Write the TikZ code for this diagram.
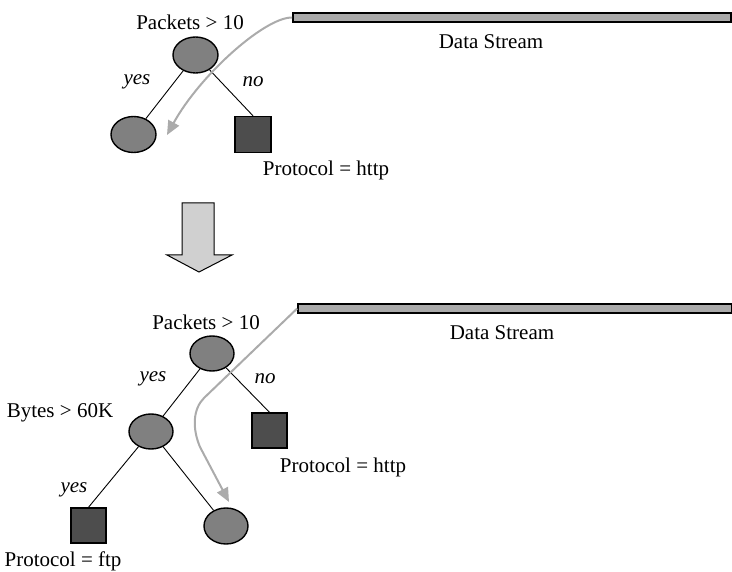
\documentclass[tikz,border=0pt]{standalone}
\usepackage{fontspec}
\setmainfont{Liberation Serif}
\usetikzlibrary{shapes.geometric,arrows.meta}
\definecolor{ellfill}{HTML}{808080}
\definecolor{sqfill}{HTML}{4D4D4D}
\definecolor{barfill}{HTML}{AAAAAA}
\definecolor{flowcol}{HTML}{ABABAB}
\definecolor{bigarrow}{HTML}{D0D0D0}
\tikzset{
  txt/.style={font=\fontsize{21}{24}\selectfont, inner sep=0pt},
  lbl/.style={font=\fontsize{21}{24}\selectfont\itshape, inner sep=0pt},
  ell/.style={ellipse, draw=black, line width=1.4pt, fill=ellfill, minimum width=45pt, minimum height=36pt, inner sep=0pt},
  sq/.style={rectangle, draw=black, line width=1.4pt, fill=sqfill, minimum size=35pt, inner sep=0pt},
  bar/.style={rectangle, draw=black, line width=1.6pt, fill=barfill, minimum height=9pt, inner sep=0pt},
  edge/.style={draw=black, line width=0.9pt},
  flow/.style={draw=flowcol, line width=2pt, -{Triangle[length=14pt,width=12pt]}},
}
\begin{document}
\begin{tikzpicture}[x=1pt,y=-1pt]
\useasboundingbox (0,0) rectangle (732,572);
% ---------- top tree ----------
\node[bar, minimum width=438pt] (bar1) at (512,17.5) {};
\node[txt] (ds1) at (491,42) {Data Stream};
\node[txt] (t1) at (190,22) {Packets > 10};
\node[ell] (r1) at (195.5,55) {};
\node[ell] (c1) at (133.5,134.5) {};
\node[sq, minimum size=36pt] (s1) at (253,134.5) {};
\node[txt] (p1) at (326,170) {Protocol = http};
\node[lbl] (y1) at (137,82) {yes};
\node[lbl] (n1) at (253,82) {no};
\draw[edge] (r1) -- (c1);
\draw[edge] (r1) -- (s1.north);
\coordinate (e1) at (167,135);
\draw[flow] (bar1.west) .. controls (265,17) and (200,75) .. (e1);
% ---------- block arrow ----------
\draw[black, line width=1pt, fill=bigarrow, line join=miter]
  (182,203) -- (214,203) -- (214,255) -- (232,255) -- (199,272) -- (167,255) -- (182,255) -- cycle;
% ---------- bottom tree ----------
\node[bar, minimum width=434pt] (bar2) at (515,308.5) {};
\node[txt] (ds2) at (502,333) {Data Stream};
\node[txt] (t2) at (206,322) {Packets > 10};
\node[ell, minimum width=44pt, minimum height=35pt] (r2) at (212,353.5) {};
\node[txt] (t3) at (60,413) {Bytes > 60K};
\node[ell, minimum width=44pt, minimum height=35pt] (c2) at (151,431.5) {};
\node[sq] (s2) at (269.5,430.5) {};
\node[txt] (p2) at (343,467) {Protocol = http};
\node[lbl] (y2) at (153,379) {yes};
\node[lbl] (n2) at (265,379) {no};
\node[sq] (s3) at (88.5,525.5) {};
\node[ell, minimum width=44pt, minimum height=36pt] (c3) at (226,526) {};
\node[lbl] (y3) at (74,490) {yes};
\node[txt, anchor=base] (p3) at (63,566.5) {Protocol = ftp};
\draw[edge] (r2) -- (c2);
\draw[edge] (r2) -- (s2.north);
\draw[edge] (c2) -- (s3.north);
\draw[edge] (c2) -- (c3);
\coordinate (e2) at (229,502);
\draw[flow] (bar2.west) -- (204,398) .. controls (193,409) and (192,428) .. (200,447) -- (e2);
\end{tikzpicture}
\end{document}
